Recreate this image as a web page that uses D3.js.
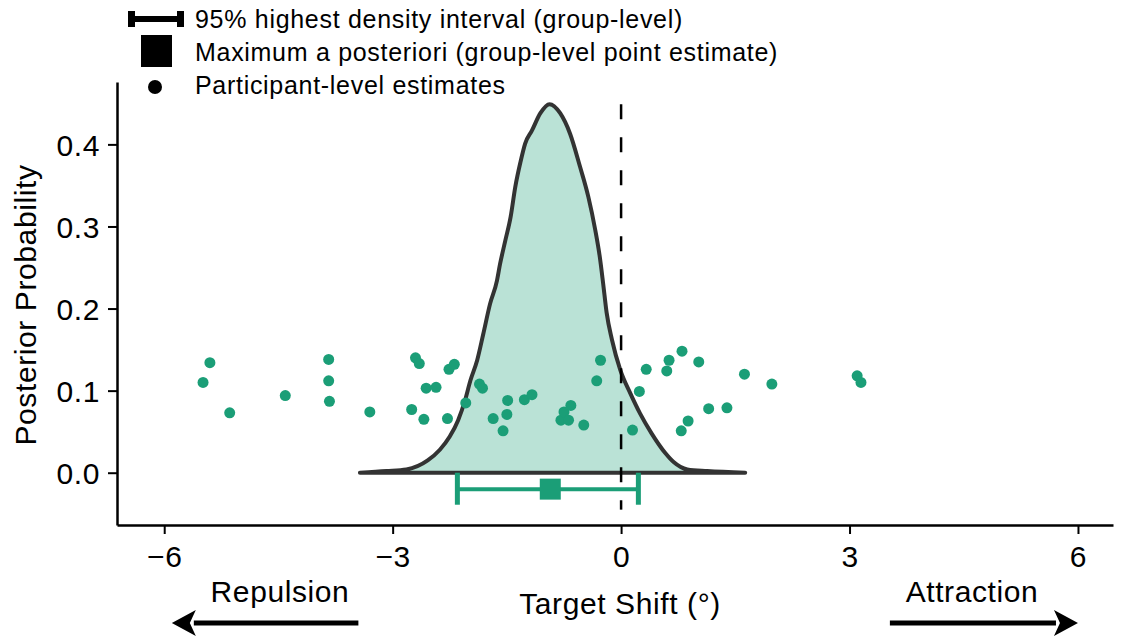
<!DOCTYPE html>
<html>
<head>
<meta charset="utf-8">
<script src="https://cdn.jsdelivr.net/npm/d3@7"></script>
<style>
  html, body { margin: 0; padding: 0; background: #fff; }
  svg { display: block; }
</style>
</head>
<body>
<svg id="chart" width="1126" height="639"></svg>
<script>
// ---------------- DATA ----------------
// Posterior density of the group-level target shift
const densityX = [-3.43, -3.08, -2.82, -2.54, -2.38, -2.25, -2.14, -2.05, -1.98, -1.89,
                  -1.81, -1.72, -1.63, -1.59, -1.52, -1.45, -1.39, -1.32, -1.26, -1.17,
                  -1.06, -0.94, -0.80, -0.67, -0.54, -0.43, -0.34, -0.28, -0.235, -0.19,
                  -0.12, -0.01, 0.12, 0.25, 0.40, 0.58, 0.69, 0.87, 1.13, 1.63];
const densityY = [0.000, 0.002, 0.004, 0.015, 0.028, 0.044, 0.064, 0.088, 0.112, 0.137,
                  0.169, 0.206, 0.234, 0.254, 0.283, 0.312, 0.348, 0.379, 0.401, 0.417,
                  0.438, 0.449, 0.438, 0.413, 0.373, 0.336, 0.296, 0.263, 0.230, 0.195,
                  0.162, 0.125, 0.097, 0.072, 0.048, 0.024, 0.013, 0.004, 0.002, 0.000];

// Participant-level estimates (x = shift, y = jittered height)
const participantX = [-5.49, -5.40, -5.14, -4.41, -3.84, -3.84, -3.83, -3.30, -2.75, -2.70,
                      -2.65, -2.59, -2.56, -2.43, -2.28, -2.26, -2.19, -2.04, -1.86, -1.82,
                      -1.68, -1.55, -1.50, -1.49, -1.27, -1.17, -0.79, -0.75, -0.69, -0.66,
                      -0.49, -0.32, -0.27, 0.15, 0.24, 0.33, 0.60, 0.63, 0.80, 1.02,
                      0.79, 0.88, 1.15, 1.39, 1.62, 1.98, 3.10, 3.15];
const participantY = [0.110, 0.134, 0.073, 0.094, 0.138, 0.112, 0.087, 0.074, 0.077, 0.140,
                      0.133, 0.065, 0.103, 0.104, 0.066, 0.126, 0.132, 0.085, 0.108, 0.103,
                      0.066, 0.051, 0.071, 0.088, 0.089, 0.095, 0.064, 0.074, 0.064, 0.082,
                      0.058, 0.112, 0.137, 0.052, 0.099, 0.126, 0.124, 0.137, 0.148, 0.135,
                      0.051, 0.063, 0.078, 0.079, 0.120, 0.108, 0.118, 0.110];

// Group-level summary
const hdiLow = -2.15, hdiHigh = 0.227, mapEstimate = -0.93, hdiLevel = -0.02;

// Ticks and labels
const xTicks = [-6, -3, 0, 3, 6];
const yTicks = [0.0, 0.1, 0.2, 0.3, 0.4];
const legendLabels = ["95% highest density interval (group-level)",
                      "Maximum a posteriori (group-level point estimate)",
                      "Participant-level estimates"];
const xLabel = "Target Shift (°)";
const yLabel = "Posterior Probability";
const leftNote = "Repulsion", rightNote = "Attraction";

// ---------------- STYLE ----------------
const green = "#1b9e77";
const fillGreen = "#bae2d6";
const font = "'Liberation Sans', Arial, Helvetica, sans-serif";

const svg = d3.select("#chart");
const x = d3.scaleLinear().domain([-6.62, 6.46]).range([117, 1113]);
const y = d3.scaleLinear().domain([-0.0637, 0.476]).range([525, 82]);

// Density area
const dens = densityX.map((d, i) => [d, densityY[i]]);
const area = d3.area().x(d => x(d[0])).y0(y(0)).y1(d => y(d[1])).curve(d3.curveMonotoneX);
svg.append("path").attr("d", area(dens))
  .attr("fill", fillGreen).attr("stroke", "#333").attr("stroke-width", 4)
  .attr("stroke-linejoin", "round");

// Dashed zero line
svg.append("line")
  .attr("x1", x(0)).attr("x2", x(0)).attr("y1", y(0.449)).attr("y2", y(-0.045))
  .attr("stroke", "#000").attr("stroke-width", 2.5).attr("stroke-dasharray", "15,18");

// HDI
const hg = svg.append("g").attr("stroke", green);
hg.append("line").attr("x1", x(hdiLow)).attr("x2", x(hdiHigh))
  .attr("y1", y(hdiLevel)).attr("y2", y(hdiLevel)).attr("stroke-width", 4);
[hdiLow, hdiHigh].forEach(v => {
  hg.append("line").attr("x1", x(v)).attr("x2", x(v))
    .attr("y1", y(0)).attr("y2", y(-0.039)).attr("stroke-width", 5);
});
svg.append("rect").attr("x", x(mapEstimate) - 10.5).attr("y", y(hdiLevel) - 10.5)
  .attr("width", 21).attr("height", 21).attr("fill", green);

// Participant points
svg.append("g").selectAll("circle")
  .data(participantX.map((d, i) => [d, participantY[i]]))
  .join("circle")
  .attr("cx", d => x(d[0])).attr("cy", d => y(d[1])).attr("r", 5.5)
  .attr("fill", green);

// Axes
const yAxis = d3.axisLeft(y).tickValues(yTicks).tickFormat(d3.format(".1f"))
  .tickSize(9).tickSizeOuter(0).tickPadding(8);
const gy = svg.append("g").attr("transform", "translate(117,0)").call(yAxis);
const xAxis = d3.axisBottom(x).tickValues(xTicks).tickFormat(d3.format("d"))
  .tickSize(9).tickSizeOuter(0).tickPadding(12);
const gx = svg.append("g").attr("transform", "translate(0,525)").call(xAxis);
[gx, gy].forEach(g => {
  g.select(".domain").attr("stroke", "#000").attr("stroke-width", 2.5);
  g.selectAll(".tick line").attr("stroke", "#000").attr("stroke-width", 2);
  g.selectAll(".tick text").attr("font-family", font).attr("font-size", 30)
    .attr("fill", "#000").attr("letter-spacing", 0.6);
});
gy.selectAll(".tick text").attr("dy", "0.36em");

// Axis labels
svg.append("text").attr("x", 620).attr("y", 614).attr("text-anchor", "middle")
  .attr("font-family", font).attr("font-size", 30).attr("letter-spacing", 0.6).text(xLabel);
svg.append("text").attr("transform", "translate(36,305) rotate(-90)").attr("text-anchor", "middle")
  .attr("font-family", font).attr("font-size", 30).attr("letter-spacing", 0.6).text(yLabel);

// Repulsion / Attraction notes + arrows
svg.append("text").attr("x", 280).attr("y", 602).attr("text-anchor", "middle")
  .attr("font-family", font).attr("font-size", 30).attr("letter-spacing", 0.6).text(leftNote);
svg.append("text").attr("x", 972).attr("y", 602).attr("text-anchor", "middle")
  .attr("font-family", font).attr("font-size", 30).attr("letter-spacing", 0.6).text(rightNote);

function arrow(xTail, xTip, yy) {
  const dir = Math.sign(xTip - xTail);
  const headLen = 24, half = 13;
  svg.append("line").attr("x1", xTail).attr("x2", xTip - dir * (headLen - 2))
    .attr("y1", yy).attr("y2", yy).attr("stroke", "#000").attr("stroke-width", 5);
  svg.append("path")
    .attr("d", `M${xTip},${yy} L${xTip - dir * headLen},${yy - half} L${xTip - dir * (headLen - 6)},${yy} L${xTip - dir * headLen},${yy + half} Z`)
    .attr("fill", "#000");
}
arrow(x(-3.45), x(-5.9), 623);
arrow(x(3.53), x(6.0), 623);

// Legend
const lg = svg.append("g");
lg.append("line").attr("x1", 131).attr("x2", 181).attr("y1", 19).attr("y2", 19)
  .attr("stroke", "#000").attr("stroke-width", 6);
lg.append("rect").attr("x", 128).attr("y", 11).attr("width", 7).attr("height", 16).attr("fill", "#000");
lg.append("rect").attr("x", 177).attr("y", 11).attr("width", 7).attr("height", 16).attr("fill", "#000");
lg.append("rect").attr("x", 141).attr("y", 35).attr("width", 31).attr("height", 32).attr("fill", "#000");
lg.append("circle").attr("cx", 155).attr("cy", 87).attr("r", 7).attr("fill", "#000");
const legendBaselines = [28, 61, 94];
legendLabels.forEach((t, i) => {
  lg.append("text").attr("x", 195).attr("y", legendBaselines[i])
    .attr("font-family", font).attr("font-size", 25).attr("letter-spacing", 0.7)
    .attr("fill", "#000").text(t);
});
</script>
</body>
</html>
